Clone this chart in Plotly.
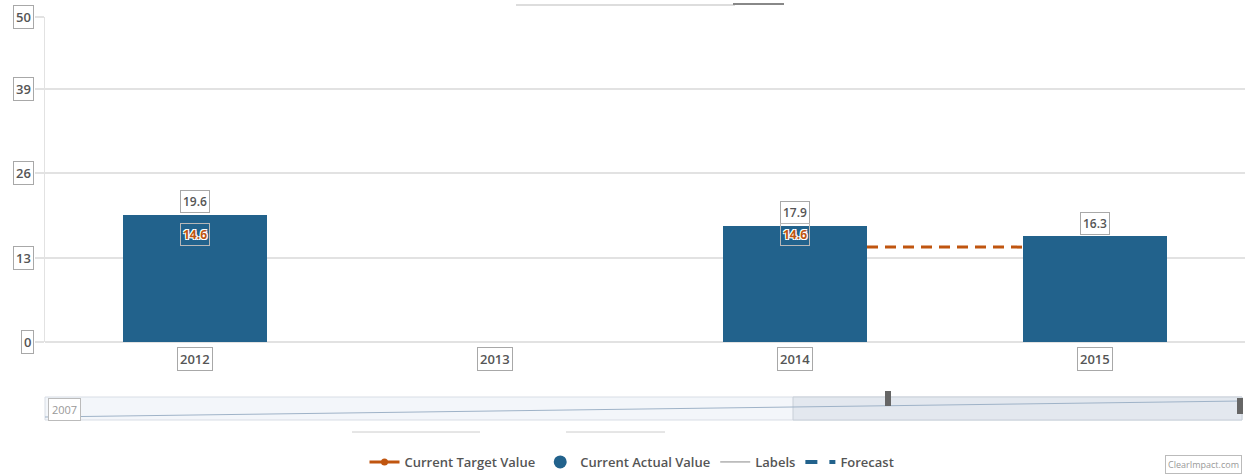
import plotly.graph_objects as go

years = [2012, 2013, 2014, 2015]
actual = [19.6, None, 17.9, 16.3]
target = [14.6, None, 14.6, None]
forecast_target = [14.6, 14.6]          # dashed target between 2014 and 2015
forecast_years = [2014, 2015]
y_ticks = [0, 13, 26, 39, 50]
slider_start_label = "2007"

BLUE = "#22628C"
ORANGE = "#C0550F"
TXT = "#555555"
BOX = "#A8A8A8"
BAR_W = 0.48

fig = go.Figure()

bx = [x for x, v in zip(years, actual) if v is not None]
by = [v for v in actual if v is not None]
fig.add_trace(go.Bar(x=bx, y=by, width=BAR_W, marker=dict(color=BLUE, line=dict(width=0)),
                     showlegend=False, hoverinfo="x+y"))

# forecast dashed target line from right edge of 2014 bar to left edge of 2015 bar
fig.add_trace(go.Scatter(x=[forecast_years[0] + BAR_W / 2, forecast_years[1] - BAR_W / 2],
                         y=forecast_target, mode="lines",
                         line=dict(color=ORANGE, width=3, dash="11px,7px"),
                         showlegend=False, hoverinfo="skip"))

# legend dummies
fig.add_trace(go.Scatter(x=[None], y=[None], mode="lines+markers", name="Current Target Value",
                         line=dict(color=ORANGE, width=3), marker=dict(color=ORANGE, size=7)))
fig.add_trace(go.Scatter(x=[None], y=[None], mode="markers", name="Current Actual Value",
                         marker=dict(color=BLUE, size=13, symbol="circle")))
fig.add_trace(go.Scatter(x=[None], y=[None], mode="lines", name="Labels",
                         line=dict(color="#888888", width=1)))
fig.add_trace(go.Scatter(x=[None], y=[None], mode="lines", name="Forecast",
                         line=dict(color=BLUE, width=4, dash="dash")))

ann = []
# value labels
for x, v in zip(years, actual):
    if v is None:
        continue
    ann.append(dict(x=x, y=v, xref="x", yref="y", text=f"{v}", showarrow=False,
                    yshift=13, font=dict(family="Open Sans", size=12, color=TXT, weight=600),
                    bordercolor=BOX, borderwidth=1, borderpad=2, bgcolor="white"))
for x, v in zip(years, target):
    if v is None:
        continue
    ann.append(dict(x=x, y=v, xref="x", yref="y", text=f"{v}", showarrow=False,
                    yshift=13, font=dict(family="Open Sans", size=12, color=ORANGE, weight=700,
                                         shadow="1px 1px 0 #fff, -1px -1px 0 #fff, 1px -1px 0 #fff, -1px 1px 0 #fff"),
                    bordercolor="#B8B8B8", borderwidth=1, borderpad=2))
# x tick labels
for x in years:
    ann.append(dict(x=x, y=0, xref="x", yref="paper", text=str(x), showarrow=False,
                    yanchor="top", yshift=-5,
                    font=dict(family="Open Sans", size=13, color=TXT, weight=600),
                    bordercolor=BOX, borderwidth=1, borderpad=2, bgcolor="white"))
# y tick labels
for t in y_ticks:
    ann.append(dict(x=0, y=t, xref="paper", yref="y", text=str(t), showarrow=False,
                    xanchor="right", xshift=-11,
                    font=dict(family="Open Sans", size=13, color=TXT, weight=600),
                    bordercolor=BOX, borderwidth=1, borderpad=2, bgcolor="white"))


def px(x):
    return (x - 45) / 1200


def py(y):
    return (342 - y) / 325


# range-slider label
ann.append(dict(x=px(64), y=py(410), xref="paper", yref="paper", xanchor="center", yanchor="middle",
                text=slider_start_label, showarrow=False,
                font=dict(family="Open Sans", size=11, color="#999999"),
                bordercolor="#BBBBBB", borderwidth=1, borderpad=3, bgcolor="white"))
ann.append(dict(x=px(1242), y=py(464), xref="paper", yref="paper", xanchor="right", yanchor="middle",
                text="ClearImpact.com", showarrow=False,
                font=dict(family="Open Sans", size=9, color="#999999"),
                bordercolor="#BBBBBB", borderwidth=1, borderpad=2, bgcolor="white"))

shapes = [
    # range slider frame
    dict(type="rect", xref="paper", yref="paper", x0=px(45), x1=px(1242), y0=py(420), y1=py(397),
         fillcolor="#F3F6FA", line=dict(color="#D8DDE5", width=1), layer="below"),
    # selected area
    dict(type="rect", xref="paper", yref="paper", x0=px(793), x1=px(1242), y0=py(420), y1=py(397),
         fillcolor="#E3E8EF", line=dict(color="#C8CFD8", width=1), layer="below"),
    # mini line
    dict(type="line", xref="paper", yref="paper", x0=px(45), x1=px(1242), y0=py(417), y1=py(401),
         line=dict(color="#9FB3C8", width=1)),
    # handles
    dict(type="rect", xref="paper", yref="paper", x0=px(885), x1=px(891), y0=py(406), y1=py(391),
         fillcolor="#666666", line=dict(width=0)),
    dict(type="rect", xref="paper", yref="paper", x0=px(1237), x1=px(1243), y0=py(414), y1=py(398),
         fillcolor="#666666", line=dict(width=0)),
    # faint top artifacts
    dict(type="line", xref="paper", yref="paper", x0=px(516), x1=px(735), y0=py(5), y1=py(5),
         line=dict(color="#BBBBBB", width=1)),
    dict(type="line", xref="paper", yref="paper", x0=px(733), x1=px(784), y0=py(4), y1=py(4),
         line=dict(color="#888888", width=2)),
    dict(type="line", xref="paper", yref="paper", x0=px(352), x1=px(480), y0=py(432), y1=py(432),
         line=dict(color="#CCCCCC", width=1)),
    dict(type="line", xref="paper", yref="paper", x0=px(566), x1=px(665), y0=py(432), y1=py(432),
         line=dict(color="#CCCCCC", width=1)),
]

fig.update_layout(
    width=1247, height=475,
    margin=dict(l=45, r=2, t=17, b=133),
    paper_bgcolor="white", plot_bgcolor="white",
    bargap=0,
    xaxis=dict(range=[years[0] - 0.5, years[-1] + 0.5], showticklabels=False, showgrid=False,
               zeroline=False, ticks="", fixedrange=True),
    yaxis=dict(range=[0, 50], tickvals=y_ticks, showticklabels=False, showgrid=True,
               gridcolor="#E2E2E2", gridwidth=2, zeroline=True, zerolinecolor="#E2E2E2",
               zerolinewidth=2, showline=True, linecolor="#E2E2E2", linewidth=1,
               ticks="outside", ticklen=9, tickcolor="#E2E2E2", tickwidth=2, fixedrange=True),
    legend=dict(orientation="h", xref="paper", x=px(632), xanchor="center",
                yref="container", y=1 - 462 / 475, yanchor="middle",
                font=dict(family="Open Sans", size=13, color="#555555", weight=600), itemwidth=30,
                bgcolor="rgba(0,0,0,0)"),
    annotations=ann,
    shapes=shapes,
)

fig.write_html("out.html", config={"displayModeBar": False})

# remove default body margin so the figure fills the window exactly
with open("out.html", "r", encoding="utf-8") as f:
    html = f.read()
html = html.replace("<body>", '<body style="margin:0;padding:0;overflow:hidden">', 1)
with open("out.html", "w", encoding="utf-8") as f:
    f.write(html)
